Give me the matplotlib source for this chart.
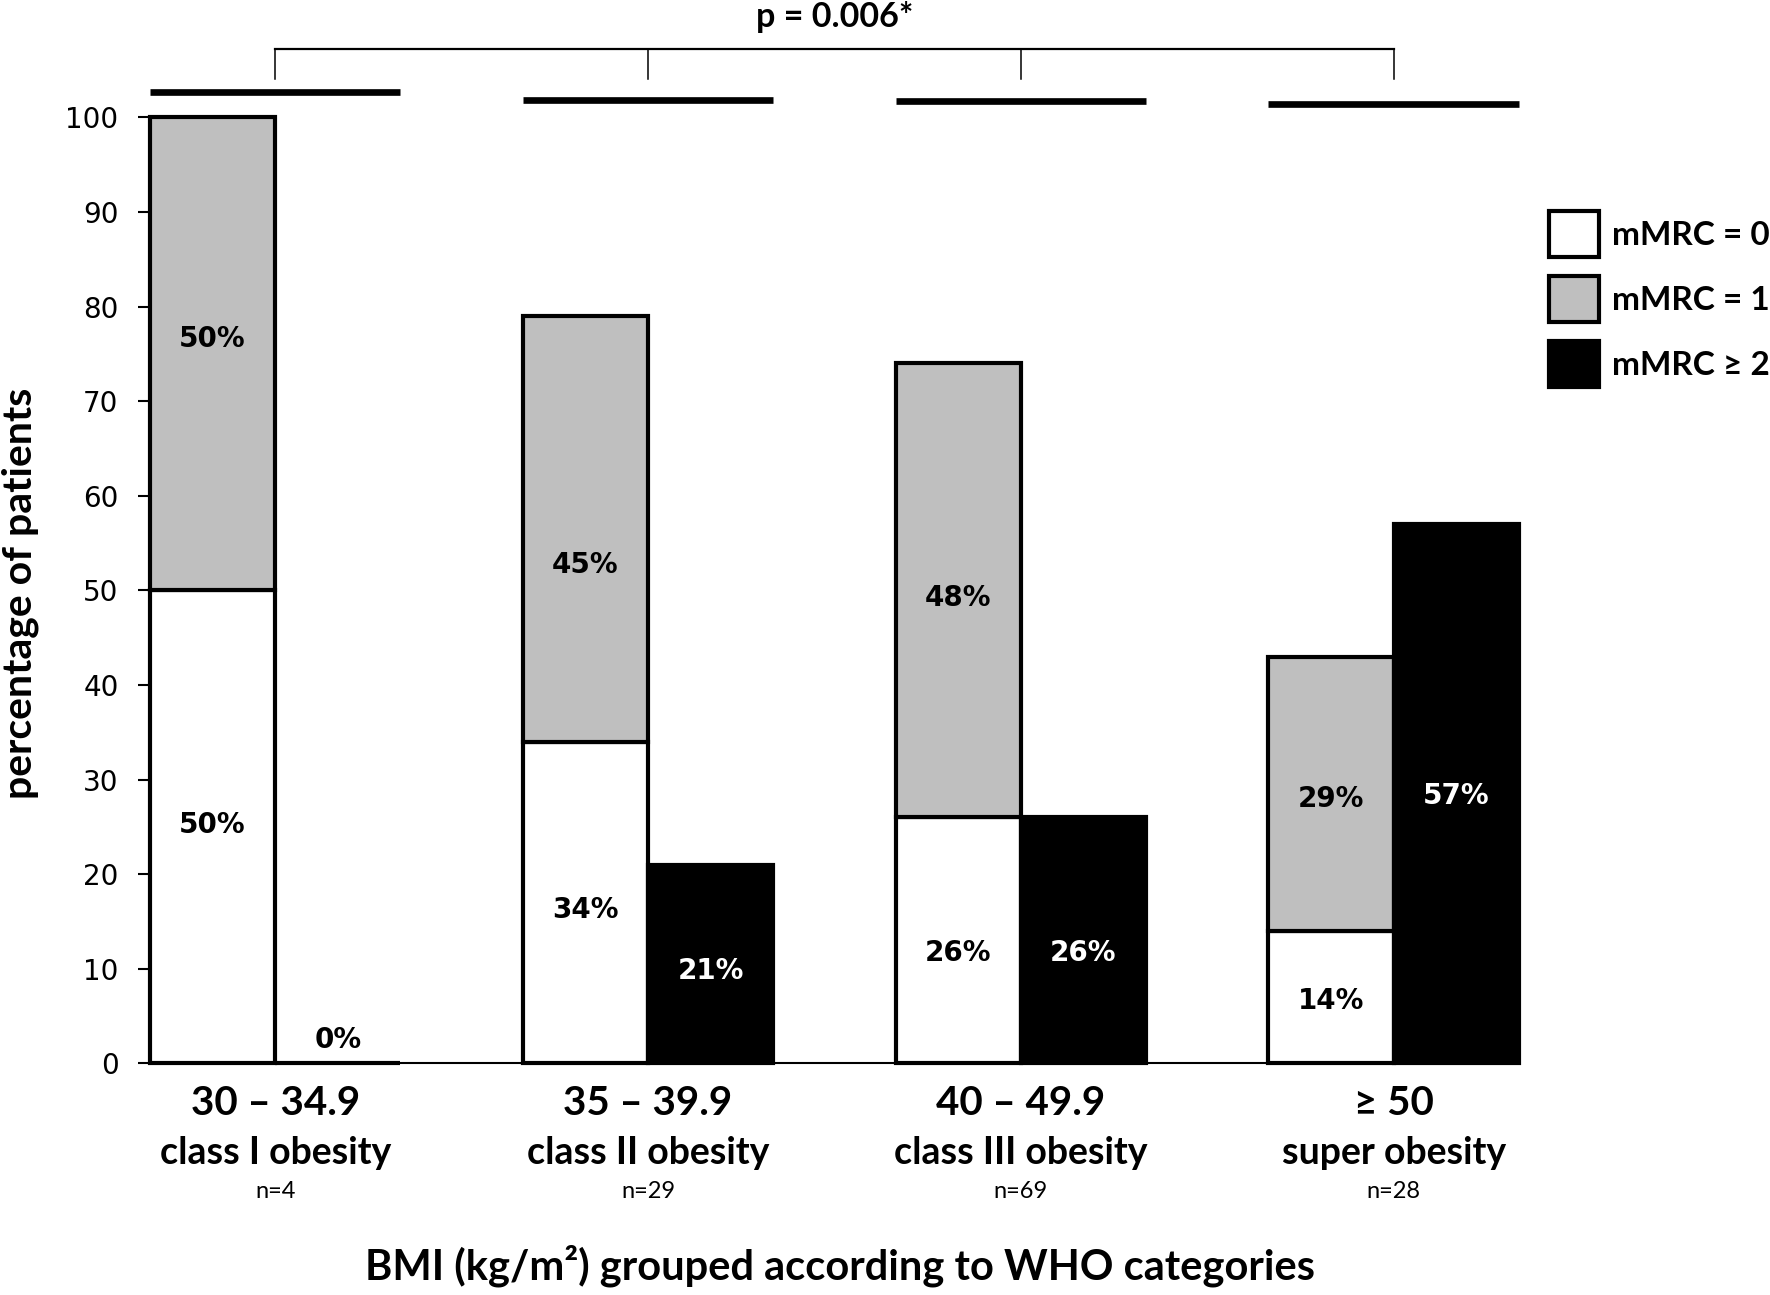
import matplotlib
matplotlib.use("Agg")
from matplotlib import pyplot as plt
import numpy as np

# data
categories = ["30 – 34.9", "35 – 39.9", "40 – 49.9", "≥ 50"]
classes = ["class I obesity", "class II obesity", "class III obesity", "super obesity"]
group_n = [4, 29, 69, 28]
mmrc0 = [50, 34, 26, 14]
mmrc1 = [50, 45, 48, 29]
mmrc2 = [0, 21, 26, 57]
series_labels = ["mMRC = 0", "mMRC = 1", "mMRC ≥ 2"]
p_text = "p = 0.006*"

# small vertical nudges of the % labels (data units), as placed in the original
nudge0 = [0.2, -0.8, -1.3, -0.4]
nudge1 = [1.6, -3.8, -0.8, -0.6]
nudge2 = [0.0, -0.7, -1.3, -0.2]

LATO = ["Lato", "DejaVu Sans"]
GRAY = "#bfbfbf"


def main():
    fig = plt.figure(figsize=(17.7, 12.95), dpi=100)
    ax = fig.add_axes([0.0847, 0.1789, 0.7734, 0.7304])

    x = np.arange(len(categories))
    w = 0.336
    kw = dict(width=w, edgecolor="black", linewidth=3, clip_on=False)
    b0 = ax.bar(x - w / 2, mmrc0, color="white", label=series_labels[0], **kw)
    b1 = ax.bar(x - w / 2, mmrc1, bottom=mmrc0, color=GRAY, label=series_labels[1], **kw)
    b2 = ax.bar(x + w / 2, mmrc2, color="black", label=series_labels[2], **kw)

    lab = dict(fontsize=20, fontweight="bold", family="DejaVu Sans", ha="center", va="center")
    for bars, vals, nud in ((b0, mmrc0, nudge0), (b1, mmrc1, nudge1), (b2, mmrc2, nudge2)):
        for rect, v, dy in zip(bars, vals, nud):
            cx = rect.get_x() + rect.get_width() / 2
            cy = rect.get_y() + rect.get_height() / 2 + dy
            col = "white" if rect.get_facecolor()[0] < 0.5 else "black"
            if v == 0:
                ax.annotate(f"{v}%", (cx, v), xytext=(0, 17), textcoords="offset points",
                            color="black", **lab)
            else:
                ax.text(cx, cy, f"{v}%", color=col, **lab)

    ax.set_xlim(-w, x[-1] + w)
    ax.set_ylim(0, 100)
    ax.set_yticks(np.arange(0, 101, 10))
    ax.set_xticks([])
    ax.tick_params(axis="y", length=8.6, width=1.5, pad=14, labelsize=20)
    for t in ax.get_yticklabels():
        t.set_family("DejaVu Sans")
    for s in ("top", "right"):
        ax.spines[s].set_visible(False)
    ax.spines["left"].set_linewidth(1.5)
    ax.spines["bottom"].set_linewidth(1.5)

    # category labels under the axis
    tr = ax.get_xaxis_transform()
    for xi, cat, cl, n in zip(x, categories, classes, group_n):
        ax.text(xi, -0.042, cat, transform=tr, ha="center", va="center",
                fontsize=29, fontweight="bold", family=LATO)
        ax.text(xi, -0.095, cl, transform=tr, ha="center", va="center",
                fontsize=27, fontweight="bold", family=LATO)
        ax.text(xi, -0.135, f"n={n}", transform=tr, ha="center", va="center",
                fontsize=17, family=LATO)

    fig.text(0.4746, 0.0224, "BMI (kg/m²) grouped according to WHO categories",
             ha="center", va="center", fontsize=30, fontweight="bold", family=LATO)
    fig.text(0.0113, 0.542, "percentage of patients", rotation=90,
             ha="center", va="center", fontsize=29.5, fontweight="bold", family=LATO)

    # group bars and significance bracket above the plot
    group_line_y = [102.65, 101.8, 101.7, 101.4]
    for xi, gy in zip(x, group_line_y):
        ax.plot([xi - w, xi + w], [gy, gy], color="black", lw=4.8,
                solid_capstyle="butt", clip_on=False)
    ax.plot([x[0], x[-1]], [107.2, 107.2], color="black", lw=1.6, clip_on=False)
    for xi in x:
        ax.plot([xi, xi], [104.1, 107.2], color="black", lw=1.1, clip_on=False)
    ax.text((x[0] + x[-1]) / 2, 110.6, p_text, ha="center", va="center",
            fontsize=24.5, fontweight="bold", family=LATO)

    ax.legend(handles=[b0, b1, b2], loc="upper left",
              bbox_to_anchor=(0.8751, 0.8371), bbox_transform=fig.transFigure,
              frameon=False, prop=dict(family=LATO, weight="bold", size=24),
              handlelength=1.5, handleheight=1.76, labelspacing=0.56,
              handletextpad=0.4, borderpad=0, borderaxespad=0)

    fig.savefig("out.png", dpi=100)


if __name__ == "__main__":
    main()
